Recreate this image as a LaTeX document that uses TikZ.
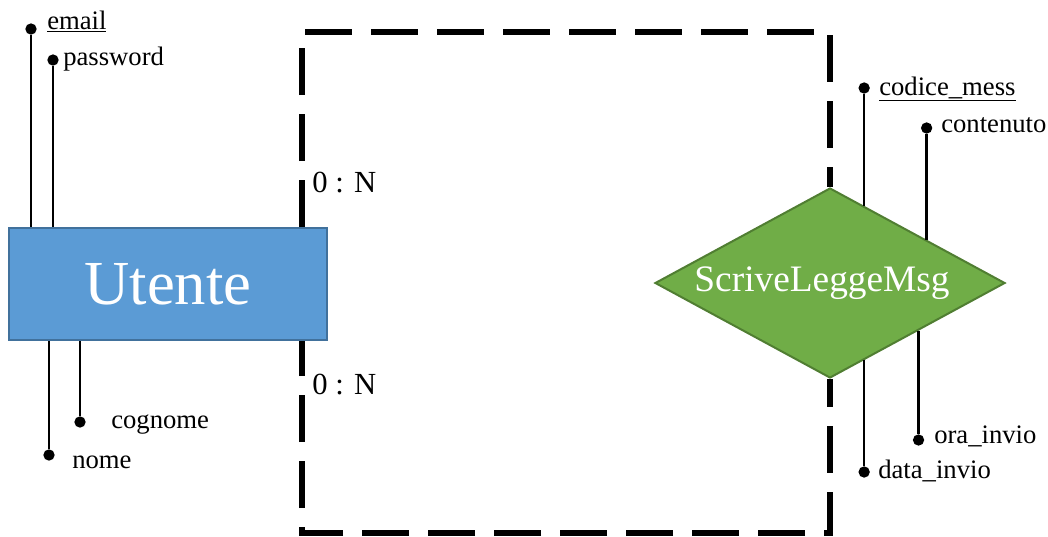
\documentclass[tikz,border=0pt]{standalone}
\usepackage{fontspec}
\setmainfont{Liberation Serif}
\usepackage{tikz}
\usetikzlibrary{shapes.geometric}
\usetikzlibrary{calc}
\definecolor{bluUtente}{HTML}{5B9BD5}
\definecolor{bordoUtente}{HTML}{41719C}
\definecolor{verdeRel}{HTML}{70AD47}
\definecolor{bordoRel}{HTML}{507E32}

\begin{document}
\begin{tikzpicture}[x=0.75pt,y=-0.75pt,
  entita/.style={draw=bordoUtente,fill=bluUtente,line width=1.5pt,minimum width=238.5pt,minimum height=84pt,inner sep=0,text=white,font=\fontsize{47}{50}\selectfont},
  relazione/.style={diamond,aspect=1.84,draw=bordoRel,fill=verdeRel,line width=1.5pt,minimum width=262.5pt,minimum height=142.5pt,inner sep=0,text=white,font=\fontsize{28}{32}\selectfont},
  legame/.style={line width=4.5pt,dash pattern=on 35.25pt off 14.25pt},
  asta/.style={line width=2pt},
  pallino/.style={circle,fill=black,inner sep=0,minimum size=8.5pt},
  attr/.style={anchor=base west,inner sep=0,font=\fontsize{20}{24}\selectfont},
  card/.style={anchor=base west,inner sep=0,font=\fontsize{23}{27}\selectfont}]
  \useasboundingbox (0,0) rectangle (1048,536);
  % entita e relazione
  \node[entita] (utente) at (168,284) {Utente};
  \node[relazione] (rel) at (830,283) {\hspace*{-12pt}ScriveLeggeMsg};
  % legami tratteggiati
  \coordinate (gomitoA) at (302,32);
  \coordinate (gomitoB) at (302,533);
  \draw[legame] (utente.north -| gomitoA) -- (gomitoA) -| (rel.north);
  \draw[legame,dash phase=14.25pt] (rel.south) |- (gomitoB) -- (utente.south -| gomitoB);
  \node[card] (cardA) at (312,192) {0 : N};
  \node[card] (cardB) at (312,394) {0 : N};
  % attributi di Utente
  \node[pallino] (pEmail) at (31,29) {};
  \node[pallino] (pPassword) at (53,60) {};
  \node[pallino] (pCognome) at (80,422) {};
  \node[pallino] (pNome) at (49,455) {};
  \draw[asta] (pEmail) -- (pEmail |- utente.north);
  \draw[asta] (pPassword) -- (pPassword |- utente.north);
  \draw[asta] (pCognome) -- (pCognome |- utente.south);
  \draw[asta] (pNome) -- (pNome |- utente.south);
  \node[attr] (tEmail) at (47,29) {\underline{email}};
  \node[attr] (tPassword) at (63,65) {password};
  \node[attr] (tCognome) at (111,428) {cognome};
  \node[attr] (tNome) at (72,468) {nome};
  % attributi di ScriveLeggeMsg
  \coordinate (aCodice) at ($(rel.north)!0.194!(rel.east)$);
  \coordinate (aContenuto) at ($(rel.north)!0.549!(rel.east)$);
  \coordinate (aOra) at ($(rel.south)!0.503!(rel.east)$);
  \coordinate (aData) at ($(rel.south)!0.194!(rel.east)$);
  \node[pallino] (pCodice) at (aCodice |- 0,88) {};
  \node[pallino] (pContenuto) at (aContenuto |- 0,128) {};
  \node[pallino] (pOra) at (aOra |- 0,440) {};
  \node[pallino] (pData) at (aData |- 0,472) {};
  \draw[asta] (pCodice) -- (aCodice);
  \draw[asta] (pContenuto) -- (aContenuto);
  \draw[asta] (pOra) -- (aOra);
  \draw[asta] (pData) -- (aData);
  \node[attr] (tCodice) at (879,95) {\underline{codice\_mess}};
  \node[attr] (tContenuto) at (941,132) {contenuto};
  \node[attr] (tOra) at (934,443) {ora\_invio};
  \node[attr] (tData) at (878,478) {data\_invio};
\end{tikzpicture}
\end{document}
